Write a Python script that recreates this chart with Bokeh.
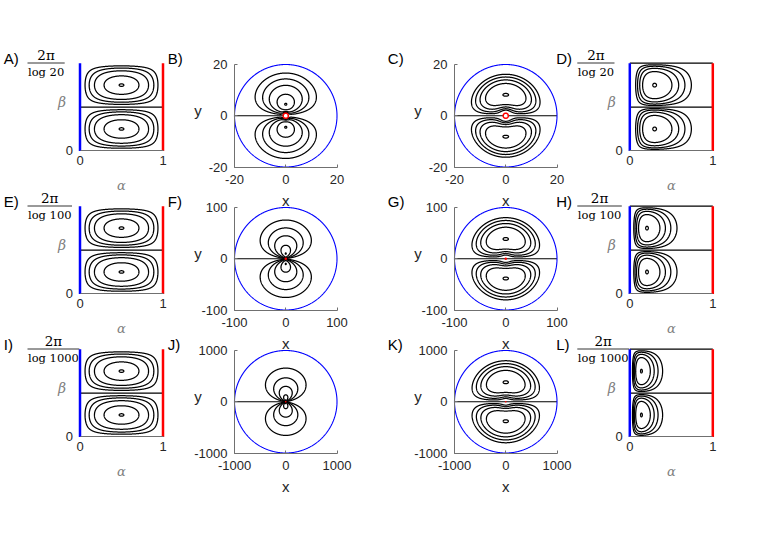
import numpy as np
import contourpy
from bokeh.plotting import figure
from bokeh.models import Range1d, LinearAxis, FixedTicker
from bokeh.core.properties import value
from bokeh.embed import file_html
from bokeh.resources import INLINE

# ---------------- data ----------------
domain_radius = [20, 100, 1000]
panel_letters = [["A)", "B)", "C)", "D)"], ["E)", "F)", "G)", "H)"], ["I)", "J)", "K)", "L)"]]
fraction_numerator = "2π"
fraction_denominators = ["log 20", "log 100", "log 1000"]
disk_ticks = [[-20, 0, 20], [-100, 0, 100], [-1000, 0, 1000]]
box_x_ticks = [0, 1]
box_y_ticks = [0]
# contour levels, as fractions of the peak of each stream function
levels_left = [0.19, 0.34, 0.52, 0.79, 0.996]
levels_right = [0.30, 0.43, 0.57, 0.73, 0.995]
# right-hand flow: s^a (1-s)^b (1-1/r) |sin(theta)|^p, s = r/R
radial_profile = [1.09, 1.78]
angular_exponent = 0.55

# ---------------- page geometry (pixels, from the top-left corner) ----------------
W_PAGE, H_PAGE = 763, 530
ROW_STEP = 143
BOX_X0 = [79.5, 629.3]          # alpha = 0 in the two box columns
BOX_W = 83.0
BOX_TOP, BOX_BOTTOM = 62.7, 150.4
DISK_X0 = [234.0, 454.0]
DISK_SIZE = 102.5
DISK_TOP = 64.0
AXIS_GREY = "#707070"
TEXT_DARK = "#262626"
LABEL_GREY = "#808080"
CONTOUR_W = 1.25

# ---------------- stream functions on the (alpha, phi) plane ----------------
alpha = np.linspace(0.0, 1.0, 701)
phi = np.linspace(0.0, 2 * np.pi, 1441)
AA, PP = np.meshgrid(alpha, phi)


def contour_segments(Z, levels):
    Z = Z / np.abs(Z).max()
    gen = contourpy.contour_generator(alpha, phi, Z)
    segs = []
    for lv in levels:
        for sgn in (1.0, -1.0):
            segs.extend(s for s in gen.lines(sgn * lv) if len(s) > 1)
    return segs


segs_left = contour_segments(np.sin(np.pi * AA) * np.sin(PP), levels_left)
ang = np.sign(np.sin(PP)) * np.abs(np.sin(PP)) ** angular_exponent
segs_right = []
for R in domain_radius:
    s = R ** (-AA)
    rr = R ** (1 - AA)
    radial = s ** radial_profile[0] * (1 - s) ** radial_profile[1] * (1 - 1 / rr)
    segs_right.append(contour_segments(radial * ang, levels_right))

t = np.linspace(0, 2 * np.pi, 721)
u = np.linspace(0, 1, 201)
wall_outer = np.column_stack([np.zeros_like(t), t])          # alpha = 0
wall_inner = np.column_stack([np.ones_like(t), t])           # alpha = 1
cut_mid = np.column_stack([u, np.full_like(u, np.pi)])       # beta = pi/log R
cut_top = np.column_stack([u, np.full_like(u, 2 * np.pi)])   # beta = 2pi/log R


def to_box(segs, R):
    L = np.log(R)
    return [s[:, 0] for s in segs], [s[:, 1] / L for s in segs]


def to_disk(segs, R):
    xs, ys = [], []
    for s in segs:
        r = R ** (1 - s[:, 0])
        xs.append(r * np.cos(s[:, 1]))
        ys.append(r * np.sin(s[:, 1]))
    return xs, ys


# ---------------- one canvas, one range pair per panel ----------------
p = figure(width=W_PAGE, height=H_PAGE, x_range=(0, W_PAGE), y_range=(0, H_PAGE),
           x_axis_type=None, y_axis_type=None, min_border=0, title=None,
           output_backend="svg", toolbar_location=None)
p.outline_line_color = None
p.background_fill_color = "white"
p.border_fill_color = "white"


def panel_ranges(name, xd, xp, yd, yp):
    """data box xd x yd drawn at image pixels xp (left,right), yp (bottom,top)."""
    kx = (xd[1] - xd[0]) / (xp[1] - xp[0])
    ky = (yd[1] - yd[0]) / (yp[0] - yp[1])
    p.extra_x_ranges[name] = Range1d(xd[0] - xp[0] * kx, xd[0] + (W_PAGE - xp[0]) * kx)
    p.extra_y_ranges[name] = Range1d(yd[0] - (H_PAGE - yp[0]) * ky, yd[0] + yp[0] * ky)


def add_axis(name, side, loc, bounds, ticks, standoff, show_line=True, show_ticks=True):
    ax = LinearAxis(x_range_name=name, y_range_name=name, fixed_location=loc, bounds=bounds,
                    ticker=FixedTicker(ticks=ticks),
                    major_label_overrides={v: str(v) for v in ticks})
    ax.axis_line_color = AXIS_GREY if show_line else None
    ax.major_tick_line_color = AXIS_GREY if show_ticks else None
    ax.minor_tick_line_color = None
    ax.major_tick_in = 3
    ax.major_tick_out = 0
    ax.major_label_standoff = standoff
    ax.major_label_text_font = "Liberation Sans"
    ax.major_label_text_font_size = "13px"
    ax.major_label_text_color = TEXT_DARK
    p.add_layout(ax, side)


for r, R in enumerate(domain_radius):
    dy = ROW_STEP * r
    top = 2 * np.pi / np.log(R)
    # rectangular (alpha, beta) panels: columns 1 and 4
    for k in range(2):
        name = f"box{r}{k}"
        X0 = BOX_X0[k]
        panel_ranges(name, (0.0, 1.0), (X0, X0 + BOX_W), (0.0, top), (BOX_BOTTOM + dy, BOX_TOP + dy))
        kw = dict(x_range_name=name, y_range_name=name)
        segs = segs_left if k == 0 else segs_right[r]
        xs, ys = to_box(segs, R)
        p.multi_line(xs, ys, line_color="black", line_width=CONTOUR_W, **kw)
        for cut in ([cut_mid] if k == 0 else [cut_mid, cut_top]):
            cx, cy = to_box([cut], R)
            p.line(cx[0], cy[0], line_color="black", line_width=1.2, **kw)
        bx, by = to_box([wall_outer], R)
        p.line(bx[0], by[0], line_color="#0000ff", line_width=2.5, **kw)
        bx, by = to_box([wall_inner], R)
        p.line(bx[0], by[0], line_color="#ff0000", line_width=2.5, **kw)
        add_axis(name, "below", 0.0, (0.0, 1.0), box_x_ticks, 5, show_ticks=False)
        add_axis(name, "left", 0.0, (0.0, top), box_y_ticks, 7, show_line=False, show_ticks=False)
    # disk (x, y) panels: columns 2 and 3
    for k in range(2):
        name = f"disk{r}{k}"
        X0 = DISK_X0[k]
        panel_ranges(name, (-R, R), (X0, X0 + DISK_SIZE), (-R, R),
                     (DISK_TOP + DISK_SIZE + dy, DISK_TOP + dy))
        kw = dict(x_range_name=name, y_range_name=name)
        segs = segs_left if k == 0 else segs_right[r]
        xs, ys = to_disk(segs, R)
        p.multi_line(xs, ys, line_color="black", line_width=CONTOUR_W, **kw)
        for cut in ([cut_mid] if k == 0 else [cut_mid, cut_top]):
            cx, cy = to_disk([cut], R)
            p.line(cx[0], cy[0], line_color="black", line_width=1.2, **kw)
        bx, by = to_disk([wall_outer], R)
        p.line(bx[0], by[0], line_color="#0000ff", line_width=1.1, **kw)
        bx, by = to_disk([wall_inner], R)
        p.line(bx[0], by[0], line_color="#ff0000", line_width=1.5, **kw)
        add_axis(name, "below", -R, (-R, R), disk_ticks[r], 8)
        add_axis(name, "left", -R, (-R, R), disk_ticks[r], 7)


# ---------------- texts (positions in page pixels) ----------------
def put_texts(items, font, size, color="#000000", style="normal", align="center"):
    p.text(x=[it[1] for it in items], y=[H_PAGE - it[2] for it in items],
           text=[it[0] for it in items], text_font=value(font), text_font_size=value(size),
           text_color=color, text_font_style=style, text_align=align, text_baseline="middle")


letter_x = [3.3, 167.3, 387.3, 555.7]
letters, nums, dens, betas, alphas, ys_lab, xs_lab = [], [], [], [], [], [], []
bar_x0, bar_x1, bar_y = [], [], []
for r in range(3):
    dy = ROW_STEP * r
    for c in range(4):
        letters.append((panel_letters[r][c], letter_x[c], 57.5 + dy))
    den = fraction_denominators[r]
    den_w = 11.5 * (1.875 + 0.636 * (len(den) - 4))   # DejaVu Serif advance widths
    for X0 in BOX_X0:
        xl = X0 - 52
        nums.append((fraction_numerator, xl + den_w / 2, 54.0 + dy))
        dens.append((den, xl, 71 + dy))
        bar_x0.append(xl - 0.5)
        bar_x1.append(xl + den_w + 0.5)
        bar_y.append(H_PAGE - (62.5 + dy))
        betas.append(("β", X0 - 18, 101 + dy))
        alphas.append(("α", X0 + BOX_W / 2, 185 + dy))
    for X0 in DISK_X0:
        ys_lab.append(("y", X0 - 36.5, 110 + dy))
        xs_lab.append(("x", X0 + DISK_SIZE / 2, 200 + dy))

put_texts(letters, "Liberation Sans", "15px", align="left")
put_texts(nums, "DejaVu Serif", "13.5px")
put_texts(dens, "DejaVu Serif", "11.5px", align="left")
p.segment(x0=bar_x0, y0=bar_y, x1=bar_x1, y1=bar_y, line_color="black", line_width=0.8)
put_texts(betas, "DejaVu Serif", "14px", color=LABEL_GREY, style="italic")
put_texts(alphas, "DejaVu Serif", "13px", color=LABEL_GREY, style="italic")
put_texts(ys_lab, "Liberation Sans", "15px", color=TEXT_DARK)
put_texts(xs_lab, "Liberation Sans", "15px", color=TEXT_DARK)

open("out.html", "w").write(file_html(p, INLINE))
